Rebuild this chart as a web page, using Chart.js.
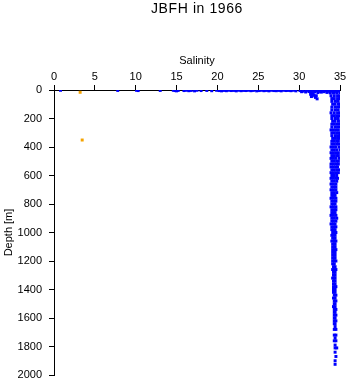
<!DOCTYPE html>
<html lang="en">
<head>
    <meta charset="UTF-8">
    <title>JBFH in 1966</title>
    <script src="https://cdn.jsdelivr.net/npm/chart.js"></script>
    <style>
        body { margin: 0; background: #fff; }
        #wrap { width: 348px; height: 384px; }
    </style>
</head>
<body>
    <div id="wrap"><canvas id="myChart" width="348" height="384"></canvas></div>

    <script>
        const titleText = 'JBFH in 1966';
        const xTitle = 'Salinity';
        const yTitle = 'Depth [m]';

        // surface samples (salinity, depth in m)
        const surfSal = [0.8, 7.8, 10.1, 10.3, 13.0, 14.6, 14.8, 15.0, 15.2, 15.9, 16.2, 16.5, 16.8, 17.2, 17.5,
            18.0, 18.7, 19.3, 19.9, 20.2, 20.5, 20.8, 21.1, 21.4, 21.7, 22.0, 22.3, 22.6, 22.9, 23.2, 23.5, 23.8,
            24.1, 24.4, 24.8, 25.1, 25.4, 25.7, 26.0, 26.3, 26.6, 26.9, 27.2, 27.5, 27.8, 28.1, 28.4, 28.7, 29.0,
            29.3, 29.6, 30.1, 30.5, 30.9, 31.3, 31.6, 31.9, 32.2, 32.5, 32.8, 33.1, 33.4, 33.7, 34.0, 34.3, 34.6, 34.9];
        const surfDepth = [2, 3, 2, 4, 3, 2, 4, 6, 3, 4, 2, 5, 3, 6, 2,
            4, 3, 5, 2, 4, 6, 3, 5, 2, 4, 3, 6, 2, 5, 3, 4, 2,
            5, 3, 6, 4, 2, 5, 3, 6, 2, 4, 5, 3, 6, 2, 4, 3, 5,
            2, 6, 4, 8, 3, 6, 9, 4, 7, 10, 5, 8, 4, 9, 6, 3, 8, 5];

        // band just below surface, 30-35 PSU
        const mixSal = [30.3, 30.8, 31.2, 31.5, 31.9, 32.3, 32.7, 33.0, 33.4, 33.8, 34.2, 34.6, 35.0,
            31.4, 31.6, 31.8, 32.0, 32.2, 31.5, 32.1, 31.7];
        const mixDepth = [12, 14, 11, 16, 13, 18, 15, 12, 17, 14, 16, 13, 15,
            30, 42, 36, 52, 62, 46, 40, 26];

        // deep profile: depth level -> salinities seen at that level
        const colDepth = [20, 40, 60, 80, 100, 120, 140, 160, 180, 200, 220, 240, 260, 280, 300, 320, 340, 360,
            380, 400, 420, 440, 460, 480, 500, 520, 540, 560, 580, 600, 620, 640, 660, 680, 700, 720, 740, 760,
            780, 800, 820, 840, 860, 880, 900, 920, 940, 960, 980, 1000, 1020, 1040, 1060, 1080, 1100, 1120,
            1140, 1160, 1180, 1200, 1220, 1240, 1260, 1280, 1300, 1320, 1340, 1360, 1380, 1400, 1420, 1440,
            1460, 1480, 1500, 1520, 1540, 1560, 1580, 1600, 1620, 1640, 1660, 1680, 1720, 1740, 1760, 1790,
            1810, 1840, 1870, 1900, 1925];
        const colSal = [
            [33.8, 34.2, 34.6, 35.0], [33.9, 34.3, 34.7, 35.0], [34.0, 34.3, 34.7, 35.0], [34.0, 34.4, 34.7, 35.1],
            [34.1, 34.4, 34.8, 35.0], [34.0, 34.4, 34.7, 35.0], [34.0, 34.4, 34.7, 35.1], [33.9, 34.3, 34.7, 35.0],
            [34.0, 34.3, 34.6, 34.9], [34.0, 34.4, 34.7, 35.1], [34.1, 34.4, 34.8, 35.1], [34.0, 34.3, 34.6, 34.9],
            [34.0, 34.4, 34.7, 35.0], [33.9, 34.2, 34.5, 34.8], [34.0, 34.3, 34.6, 34.9], [34.0, 34.4, 34.7, 35.0],
            [34.1, 34.4, 34.7, 34.9], [34.0, 34.3, 34.6, 34.8], [34.0, 34.3, 34.6, 34.9], [33.9, 34.2, 34.5, 34.9],
            [34.0, 34.3, 34.6, 35.0], [33.9, 34.2, 34.5, 34.8], [34.0, 34.3, 34.6, 34.8], [33.9, 34.2, 34.5, 34.9],
            [34.0, 34.3, 34.6, 34.8], [33.9, 34.2, 34.5, 34.8], [33.9, 34.2, 34.5, 34.7], [34.0, 34.3, 34.6, 34.9],
            [33.9, 34.2, 34.5, 34.8], [34.0, 34.3, 34.6], [33.9, 34.2, 34.5, 34.7], [34.0, 34.3, 34.6],
            [33.9, 34.2, 34.5], [34.0, 34.3, 34.5], [33.9, 34.2, 34.5], [34.0, 34.3, 34.6], [34.0, 34.2, 34.4],
            [33.9, 34.2, 34.5], [34.0, 34.3, 34.5], [34.0, 34.2, 34.4], [33.9, 34.2, 34.5], [34.0, 34.3, 34.5],
            [34.0, 34.2, 34.4], [33.9, 34.2, 34.5], [34.0, 34.3, 34.6], [34.0, 34.2, 34.5], [33.9, 34.2, 34.4],
            [34.0, 34.3, 34.5], [34.0, 34.2, 34.4], [34.1, 34.3, 34.5], [34.0, 34.2, 34.4], [34.1, 34.3, 34.4],
            [34.0, 34.3, 34.5], [34.1, 34.3, 34.4], [34.1, 34.3, 34.4], [34.1, 34.3, 34.5], [34.1, 34.3, 34.4],
            [34.1, 34.3, 34.4], [34.1, 34.3, 34.4], [34.1, 34.3, 34.5], [34.1, 34.3], [34.2, 34.4],
            [34.1, 34.3, 34.5], [34.2, 34.4], [34.2, 34.4], [34.1, 34.3, 34.4], [34.2, 34.4], [34.2, 34.4],
            [34.2, 34.4, 34.5], [34.2, 34.4], [34.2, 34.4], [34.3, 34.5], [34.2, 34.4], [34.3, 34.5],
            [34.3, 34.4], [34.2, 34.4], [34.3, 34.5], [34.3, 34.4], [34.3, 34.5], [34.3, 34.4], [34.3, 34.5],
            [34.3, 34.4], [34.4], [34.3, 34.5], [34.3, 34.5], [34.4], [34.3, 34.5], [34.4], [34.4, 34.6],
            [34.4], [34.5], [34.4], [34.4]
        ];

        // flagged samples (orange)
        const flagSal = [3.2, 3.45];
        const flagDepth = [16, 351];

        const blue = [];
        surfSal.forEach((s, i) => blue.push({ x: s, y: surfDepth[i] }));
        mixSal.forEach((s, i) => blue.push({ x: s, y: mixDepth[i] }));
        colDepth.forEach((d, i) => colSal[i].forEach(s => blue.push({ x: s, y: d })));
        const orange = flagSal.map((s, i) => ({ x: s, y: flagDepth[i] }));

        const font = { family: "'Liberation Sans', Arial, sans-serif", size: 11 };

        // title centred over the plot area, not the canvas
        const plotTitle = {
            id: 'plotTitle',
            afterDraw(chart) {
                const { ctx, chartArea } = chart;
                ctx.save();
                ctx.font = "14px 'Liberation Sans', Arial, sans-serif";
                ctx.letterSpacing = '0.6px';
                ctx.fillStyle = '#000';
                ctx.textAlign = 'center';
                ctx.textBaseline = 'middle';
                ctx.fillText(titleText, (chartArea.left + chartArea.right) / 2, 9);
                ctx.restore();
            }
        };

        const axisGrid = { drawOnChartArea: false, tickLength: 5, color: '#000', lineWidth: 1 };

        new Chart(document.getElementById('myChart'), {
            type: 'scatter',
            data: {
                datasets: [
                    { data: blue, backgroundColor: '#0000ff', pointStyle: 'rect', pointRadius: 2.1, borderWidth: 0 },
                    { data: orange, backgroundColor: '#f5a300', pointStyle: 'rect', pointRadius: 2.1, borderWidth: 0 }
                ]
            },
            options: {
                responsive: false,
                animation: false,
                events: [],
                layout: { padding: { left: 0, right: 8, top: 0, bottom: 9 } },
                plugins: { legend: { display: false }, tooltip: { enabled: false } },
                scales: {
                    x: {
                        type: 'linear',
                        position: 'top',
                        min: 0,
                        max: 35,
                        ticks: { stepSize: 5, color: '#000', font: font, padding: 1, maxRotation: 0 },
                        grid: axisGrid,
                        border: { display: true, color: '#000', width: 1 },
                        title: { display: true, text: xTitle, color: '#000', font: font, padding: { top: 54, bottom: 0 } },
                        afterFit: s => { s.height = 90; }
                    },
                    y: {
                        type: 'linear',
                        reverse: true,
                        min: 0,
                        max: 2000,
                        ticks: { stepSize: 200, color: '#000', font: font, padding: 7, callback: v => String(v) },
                        grid: axisGrid,
                        border: { display: true, color: '#000', width: 1 },
                        title: { display: true, text: yTitle, color: '#000', font: font, padding: { top: 2, bottom: 0 } },
                        afterFit: s => { s.width = 54; s.paddingTop = 0; s.paddingBottom = 0; }
                    }
                }
            },
            plugins: [plotTitle]
        });
    </script>
</body>
</html>
